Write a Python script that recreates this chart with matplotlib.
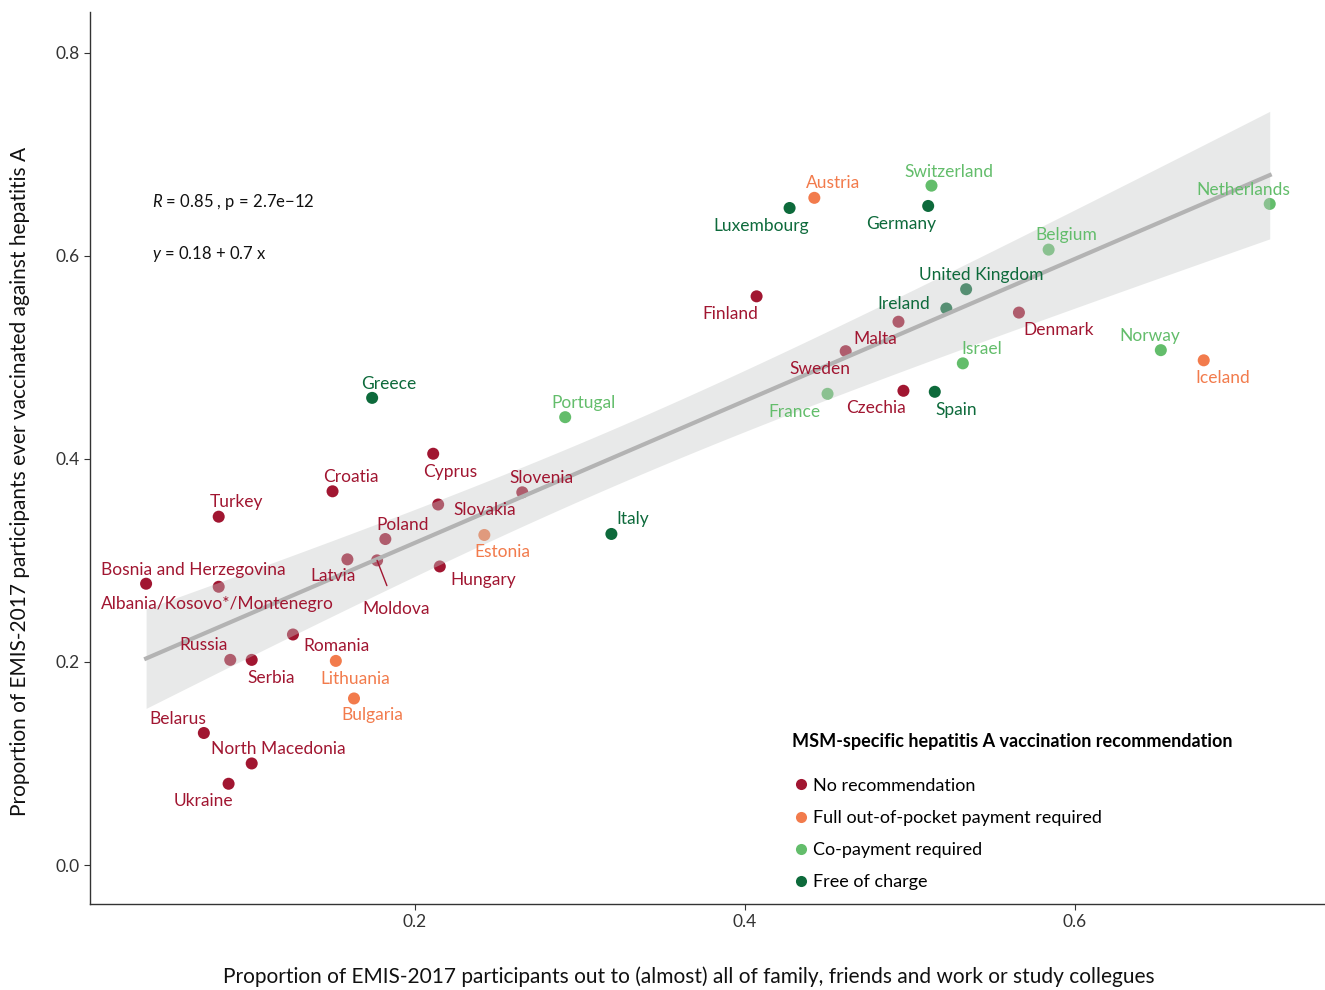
#!/usr/bin/env python3
"""Hepatitis A vaccination vs. outness scatter, EMIS-2017."""
import numpy as np
import matplotlib
matplotlib.use("Agg")
import matplotlib.pyplot as plt
from matplotlib.lines import Line2D

plt.rcParams.update({
    "font.family": ["Lato", "DejaVu Sans"],
    "mathtext.fontset": "custom",
    "mathtext.it": "Lato:italic",
    "mathtext.rm": "Lato",
    "axes.spines.top": False,
    "axes.spines.right": False,
    "figure.facecolor": "white",
    "axes.facecolor": "white",
})

# --- data -------------------------------------------------------------
countries = [
    "Bosnia and Herzegovina", "Albania/Kosovo*/Montenegro", "Turkey", "Croatia",
    "Cyprus", "Slovakia", "Slovenia", "Poland", "Latvia", "Moldova", "Hungary",
    "Russia", "Serbia", "Romania", "Belarus", "North Macedonia", "Ukraine",
    "Finland", "Malta", "Denmark", "Sweden", "Czechia",
    "Estonia", "Lithuania", "Bulgaria", "Austria", "Iceland",
    "Portugal", "Switzerland", "Netherlands", "Belgium", "Norway", "Israel", "France",
    "Greece", "Italy", "Luxembourg", "Germany", "United Kingdom", "Ireland", "Spain",
]
out_prop = [
    0.037, 0.081, 0.081, 0.150, 0.211, 0.214, 0.265, 0.182, 0.159, 0.177, 0.215,
    0.088, 0.101, 0.126, 0.072, 0.101, 0.087,
    0.407, 0.493, 0.566, 0.461, 0.496,
    0.242, 0.152, 0.163, 0.442, 0.678,
    0.291, 0.513, 0.718, 0.584, 0.652, 0.532, 0.450,
    0.174, 0.319, 0.427, 0.511, 0.534, 0.522, 0.515,
]
vacc_prop = [
    0.277, 0.274, 0.343, 0.368, 0.405, 0.355, 0.367, 0.321, 0.301, 0.300, 0.294,
    0.202, 0.202, 0.227, 0.130, 0.100, 0.080,
    0.560, 0.535, 0.544, 0.506, 0.467,
    0.325, 0.201, 0.164, 0.657, 0.497,
    0.441, 0.669, 0.651, 0.606, 0.507, 0.494, 0.464,
    0.460, 0.326, 0.647, 0.649, 0.567, 0.548, 0.466,
]
groups = (["No recommendation"] * 22 + ["Full out-of-pocket payment required"] * 5
          + ["Co-payment required"] * 7 + ["Free of charge"] * 7)

group_order = ["No recommendation", "Full out-of-pocket payment required",
               "Co-payment required", "Free of charge"]
group_colors = {
    "No recommendation": "#a11631",
    "Full out-of-pocket payment required": "#f27b4c",
    "Co-payment required": "#63bd6b",
    "Free of charge": "#0d6a3b",
}

# label offsets from the point, in pixels (dx right, dy up)
LABEL_OFFSETS = {
    "Bosnia and Herzegovina": (47, 14), "Albania/Kosovo*/Montenegro": (-1, -17),
    "Turkey": (18, 15), "Croatia": (18, 14), "Cyprus": (17, -18),
    "Slovenia": (19, 14), "Slovakia": (47, -5), "Poland": (17, 14),
    "Latvia": (-14, -17), "Moldova": (19, -49), "Estonia": (18, -17),
    "Hungary": (43, -14), "Russia": (-27, 15), "Serbia": (19, -18),
    "Romania": (44, -12), "Lithuania": (19, -18), "Bulgaria": (18, -17),
    "Belarus": (-26, 14), "North Macedonia": (27, 14), "Ukraine": (-25, -17),
    "Greece": (17, 14), "Portugal": (18, 14), "Italy": (21, 15),
    "Finland": (-26, -18), "Luxembourg": (-28, -18), "Austria": (19, 15),
    "Switzerland": (17, 14), "Germany": (-27, -18), "Netherlands": (-26, 14),
    "Belgium": (18, 15), "United Kingdom": (15, 14), "Ireland": (-43, 5),
    "Malta": (-23, -17), "Denmark": (40, -17), "Sweden": (-26, -18),
    "Norway": (-11, 14), "Iceland": (19, -18), "Israel": (19, 14),
    "France": (-33, -18), "Czechia": (-27, -17), "Spain": (21, -18),
}

# --- regression -------------------------------------------------------
x = np.array(out_prop)
y = np.array(vacc_prop)
n = len(x)
slope, intercept = np.polyfit(x, y, 1)
resid = y - (intercept + slope * x)
s = np.sqrt(np.sum(resid ** 2) / (n - 2))
xs = np.linspace(x.min(), x.max(), 200)
se = s * np.sqrt(1 / n + (xs - x.mean()) ** 2 / np.sum((x - x.mean()) ** 2))
t_crit = 2.023  # 95%, df = 39
fit = intercept + slope * xs

# --- plot -------------------------------------------------------------
fig = plt.figure(figsize=(13.25, 9.9), dpi=100)
ax = fig.add_axes([90 / 1325, 86 / 990, 1235 / 1325, 892 / 990])

colors = [group_colors[g] for g in groups]
ax.scatter(x, y, s=75, c=colors, edgecolors="none", zorder=2)

ax.fill_between(xs, fit - t_crit * se, fit + t_crit * se, color="#c6c9c8",
                alpha=0.4, linewidth=0, zorder=3)
ax.plot(xs, fit, color="#b3b3b3", linewidth=3, zorder=4)

for name, xi, yi, g in zip(countries, out_prop, vacc_prop, groups):
    dx, dy = LABEL_OFFSETS[name]
    arrow = None
    if name == "Moldova":
        arrow = dict(arrowstyle="-", color=group_colors[g], linewidth=1,
                     shrinkA=10, shrinkB=0)
    ax.annotate(name, (xi, yi), xytext=(dx, dy), textcoords="offset pixels",
                ha="center", va="center", fontsize=12.5, color=group_colors[g],
                arrowprops=arrow, zorder=5)

ax.text(0.0406, 0.653, r"$R$ = 0.85 , p = 2.7e−12", fontsize=12,
        color="#111111", va="center", ha="left")
ax.text(0.0406, 0.602, r"$y$ = 0.18 + 0.7 x", fontsize=12,
        color="#111111", va="center", ha="left")

ax.set_xlim(0.003, 0.7515)
ax.set_ylim(-0.0384, 0.840)
ax.set_xticks([0.2, 0.4, 0.6])
ax.set_yticks([0.0, 0.2, 0.4, 0.6, 0.8])
ax.set_xticklabels(["0.2", "0.4", "0.6"])
ax.set_yticklabels(["0.0", "0.2", "0.4", "0.6", "0.8"])
ax.tick_params(axis="both", labelsize=12.5, colors="#333333", length=4, width=0.8)
for sp in ("left", "bottom"):
    ax.spines[sp].set_color("#333333")
    ax.spines[sp].set_linewidth(1.0)

ax.set_xlabel("Proportion of EMIS-2017 participants out to (almost) all of family, "
              "friends and work or study collegues", fontsize=15, color="#111111")
ax.xaxis.set_label_coords((689 - 90) / 1235, -(977 - 904) / 892)
ax.xaxis.label.set_va("center")
ax.set_ylabel("Proportion of EMIS-2017 participants ever vaccinated against hepatitis A",
              fontsize=15, color="#111111")
ax.yaxis.set_label_coords(-(90 - 20) / 1235, (904 - 481) / 892)
ax.yaxis.label.set_va("center")

handles = [Line2D([], [], marker="o", linestyle="none", markersize=8,
                  markerfacecolor=group_colors[g], markeredgecolor="none", label=g)
           for g in group_order]
leg = ax.legend(handles=handles, title="MSM-specific hepatitis A vaccination recommendation",
                loc="upper left", bbox_to_anchor=(0.555, 0.21), frameon=False,
                fontsize=13, labelspacing=0.9, handletextpad=0.2, handlelength=1.0,
                alignment="left",
                title_fontproperties={"weight": "bold", "size": 13})
leg._legend_box.sep = 20

fig.savefig("out.png", dpi=100, facecolor="white")
plt.close(fig)
